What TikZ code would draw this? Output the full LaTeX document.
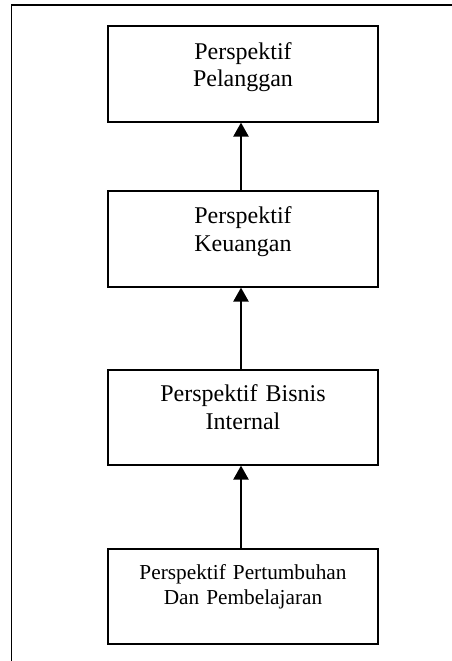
\documentclass[tikz,border=0pt]{standalone}
\usepackage{fontspec}
\setmainfont{Liberation Serif}
\usetikzlibrary{arrows.meta}
\tikzset{
  box/.style={draw, line width=1.6pt, rectangle, inner xsep=0pt, inner ysep=0pt,
    text width=270pt, align=center, anchor=north, font=\fontsize{24}{27.6}\selectfont},
  smallbox/.style={box, font=\fontsize{21.3}{25}\selectfont},
  uparrow/.style={line width=2.4pt, -{Triangle[length=14pt,width=15pt]}},
  frame/.style={line width=1.8pt}
}
\begin{document}
\begin{tikzpicture}[x=1pt,y=1pt]
\useasboundingbox (0,0) rectangle (452,-661);
\draw[frame] (11.5,-661) -- (11.5,-5) -- (452,-5);
\node[box, text height=33.5pt, text depth=62.5pt] (p1) at (243,-25) {Perspektif\\Pelanggan};
\node[box, text height=33pt, text depth=63pt] (p2) at (243,-190) {Perspektif\\Keuangan};
\node[box, text height=32pt, text depth=63pt] (p3) at (243,-369) {Perspektif Bisnis\\Internal};
\node[smallbox, text height=31pt, text depth=64pt] (p4) at (243,-548) {Perspektif Pertumbuhan\\Dan Pembelajaran};
\draw[uparrow] ([xshift=-2pt]p2.north) -- ([xshift=-2pt]p1.south);
\draw[uparrow] ([xshift=-2pt]p3.north) -- ([xshift=-2pt]p2.south);
\draw[uparrow] ([xshift=-2pt]p4.north) -- ([xshift=-2pt]p3.south);
\end{tikzpicture}
\end{document}
